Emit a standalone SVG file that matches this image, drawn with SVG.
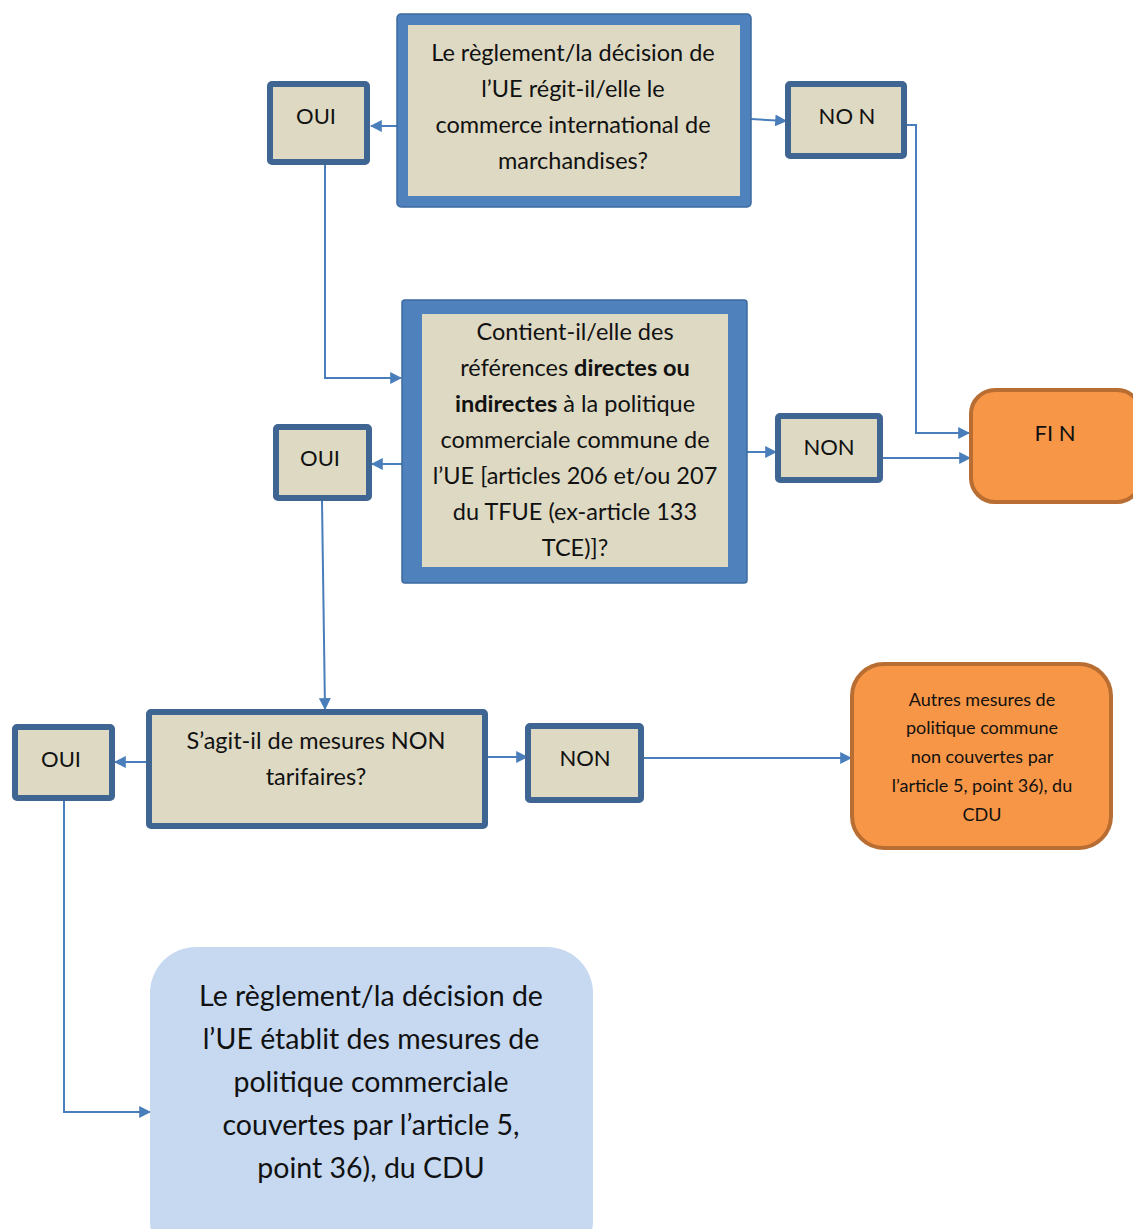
<svg xmlns="http://www.w3.org/2000/svg" width="1133" height="1229" viewBox="0 0 1133 1229">
  <defs>
    <marker id="arrow" viewBox="0 0 10 10" refX="9" refY="5" markerWidth="6" markerHeight="6" markerUnits="strokeWidth" orient="auto">
      <path d="M0,0 L10,5 L0,10 z" fill="#4a7ebb"/>
    </marker>
    <style>
      text { font-family: Lato, "Open Sans", "Liberation Sans", sans-serif; fill: #111; text-anchor: middle; dominant-baseline: central; }
      .q { font-size: 23.5px; }
      .ans { font-size: 22px; }
      .small { font-size: 18px; }
      .big { font-size: 28.5px; }
      .beige { fill: #ddd9c3; }
      .thick { fill: #4f81bd; stroke: #3d6a9e; stroke-width: 1.5; }
      .choice { fill: #ddd9c3; stroke: #3f6593; stroke-width: 6; }
      .end { fill: #f79646; stroke: #b86d32; stroke-width: 4; }
      .conn { fill: none; stroke: #4a7ebb; stroke-width: 2; marker-end: url(#arrow); }
    </style>
  </defs>
  <rect width="1133" height="1229" fill="#ffffff"/>

  <!-- connectors -->
  <g id="connectors">
    <path class="conn" d="M398,126 H371"/>
    <path class="conn" d="M751,119 L786,121"/>
    <path class="conn" d="M907,125 H916 V433 H969"/>
    <path class="conn" d="M325,165 V378 H401"/>
    <path class="conn" d="M402,464 H372"/>
    <path class="conn" d="M747,452 H776"/>
    <path class="conn" d="M883,458 H970"/>
    <path class="conn" d="M322,501 L325,709"/>
    <path class="conn" d="M147,762 H115"/>
    <path class="conn" d="M487,757 H527"/>
    <path class="conn" d="M644,758 H851"/>
    <path class="conn" d="M64,801 V1112 H150"/>
  </g>

  <!-- question 1 -->
  <g id="q1">
    <rect class="thick" x="397" y="14" width="354" height="193" rx="4"/>
    <rect class="beige" x="408" y="25" width="332" height="171"/>
    <text class="q" x="573" y="52">Le règlement/la décision de</text>
    <text class="q" x="573" y="88">l’UE régit-il/elle le</text>
    <text class="q" x="573" y="124">commerce international de</text>
    <text class="q" x="573" y="160">marchandises?</text>
  </g>

  <g id="oui1">
    <rect class="choice" x="270" y="84" width="97" height="78" rx="2"/>
    <text class="ans" x="316" y="115">OUI</text>
  </g>

  <g id="non1">
    <rect class="choice" x="788" y="84" width="116" height="72" rx="2"/>
    <text class="ans" x="847" y="115">NO N</text>
  </g>

  <!-- question 2 -->
  <g id="q2">
    <rect class="thick" x="402" y="300" width="345" height="283" rx="3"/>
    <rect class="beige" x="422" y="314" width="306" height="253"/>
    <text class="q" x="575" y="331">Contient-il/elle des</text>
    <text class="q" x="575" y="367">références <tspan font-weight="bold">directes ou</tspan></text>
    <text class="q" x="575" y="403"><tspan font-weight="bold">indirectes</tspan> à la politique</text>
    <text class="q" x="575" y="439">commerciale commune de</text>
    <text class="q" x="575" y="475">l’UE [articles 206 et/ou 207</text>
    <text class="q" x="575" y="511">du TFUE (ex-article 133</text>
    <text class="q" x="575" y="547">TCE)]?</text>
  </g>

  <g id="oui2">
    <rect class="choice" x="276" y="427" width="93" height="71" rx="2"/>
    <text class="ans" x="320" y="457">OUI</text>
  </g>

  <g id="non2">
    <rect class="choice" x="778" y="416" width="102" height="64" rx="2"/>
    <text class="ans" x="829" y="446">NON</text>
  </g>

  <g id="fin">
    <rect class="end" x="971" y="390" width="170" height="112" rx="24"/>
    <text class="ans" x="1055" y="432">FI N</text>
  </g>

  <!-- question 3 -->
  <g id="q3">
    <rect class="choice" x="149" y="712" width="336" height="114" stroke-width="5" rx="2"/>
    <text class="q" x="316" y="740">S’agit-il de mesures NON</text>
    <text class="q" x="316" y="776">tarifaires?</text>
  </g>

  <g id="oui3">
    <rect class="choice" x="15" y="727" width="97" height="71" rx="2"/>
    <text class="ans" x="61" y="758">OUI</text>
  </g>

  <g id="non3">
    <rect class="choice" x="528" y="726" width="113" height="74" rx="2"/>
    <text class="ans" x="585" y="757">NON</text>
  </g>

  <g id="autres">
    <rect class="end" x="852" y="664" width="259" height="184" rx="32"/>
    <text class="small" x="982" y="699">Autres mesures de</text>
    <text class="small" x="982" y="727">politique commune</text>
    <text class="small" x="982" y="756">non couvertes par</text>
    <text class="small" x="982" y="785">l’article 5, point 36), du</text>
    <text class="small" x="982" y="814">CDU</text>
  </g>

  <g id="couvertes">
    <rect x="150" y="947" width="443" height="320" rx="46" fill="#c6d9f1"/>
    <text class="big" x="371" y="995">Le règlement/la décision de</text>
    <text class="big" x="371" y="1038">l’UE établit des mesures de</text>
    <text class="big" x="371" y="1081">politique commerciale</text>
    <text class="big" x="371" y="1124">couvertes par l’article 5,</text>
    <text class="big" x="371" y="1167">point 36), du CDU</text>
  </g>
</svg>
